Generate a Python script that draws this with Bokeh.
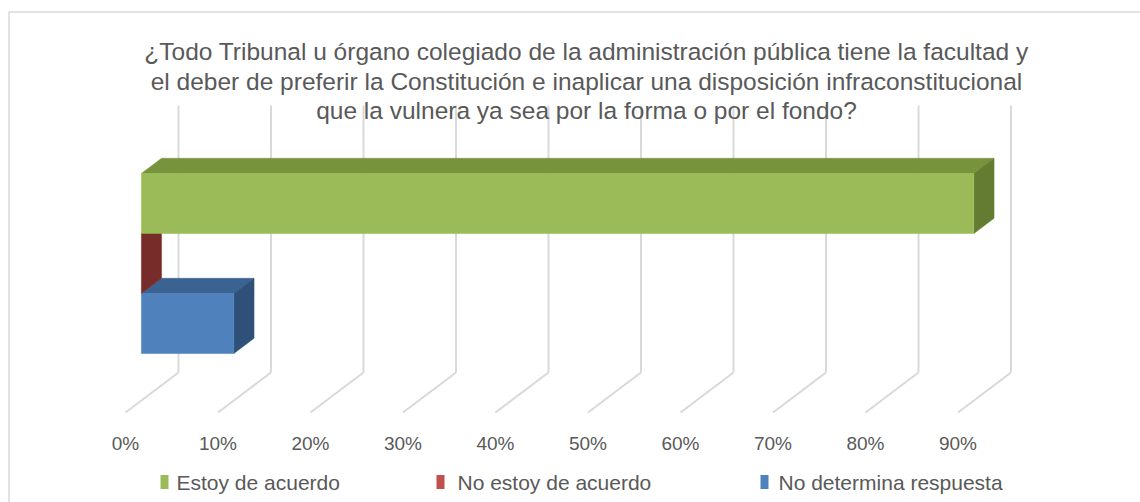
from bokeh.plotting import figure
from bokeh.models import Range1d
from bokeh.embed import file_html
from bokeh.resources import INLINE
from bokeh.core.properties import value

# ---------------- data ----------------
title_lines = [
    "¿Todo Tribunal u órgano colegiado de la administración pública tiene la facultad y",
    "el deber de preferir la Constitución e inaplicar una disposición infraconstitucional",
    "que la vulnera ya sea por la forma o por el fondo?",
]
series = ["Estoy de acuerdo", "No  estoy de acuerdo", "No determina respuesta"]
values = [0.90, 0.00, 0.10]
tick_values = [0.0, 0.1, 0.2, 0.3, 0.4, 0.5, 0.6, 0.7, 0.8, 0.9]
tick_labels = ["0%", "10%", "20%", "30%", "40%", "50%", "60%", "70%", "80%", "90%"]

# ---------------- styles ----------------
front_colors = ["#9BBB59", "#C0504D", "#4F81BD"]
top_colors = ["#77933C", "#8E3431", "#3A6391"]
side_colors = ["#637C31", "#772C2A", "#2F5179"]
text_color = "#595959"
grid_color = "#D9D9D9"
FONT = "Liberation Sans"

# 3-D projection (per unit depth, in data units)
DX = 53 / 925
DY = 40 / 60
BAR_D0, BAR_D1 = 0.30, 0.68
cat_pos = [1.0, 0.0, -1.0]      # positions on the category axis
HALF = 0.5
Y_FLOOR, Y_TOP = -2.283, 2.167

W, H = 1140, 502
p = figure(width=W, height=H, output_backend="svg", toolbar_location=None,
           x_range=Range1d((0 - 125) / 925, (W - 125) / 925),
           y_range=Range1d((275 - H) / 60, (275 - 0) / 60),
           min_border=0, background_fill_color="white", border_fill_color="white")
p.axis.visible = False
p.grid.visible = False
p.outline_line_color = None

# chart border (left and top)
xl = (8.5 - 125) / 925
yt = (275 - 11.5) / 60
p.line([xl, xl], [p.y_range.start, yt], line_color=grid_color, line_width=1.5)
p.line([xl, p.x_range.end], [yt, yt], line_color=grid_color, line_width=1.5)

# back wall gridlines and floor lines
gx, gy = [], []
for t in tick_values:
    gx.append([t + DX, t + DX]); gy.append([Y_FLOOR + DY, Y_TOP + DY])
    gx.append([t, t + DX]); gy.append([Y_FLOOR, Y_FLOOR + DY])
p.multi_line(gx, gy, line_color=grid_color, line_width=2)


def pt(x, y, d):
    return x + d * DX, y + d * DY


def quad(pts):
    return [q[0] for q in pts], [q[1] for q in pts]


# bars: draw from bottom to top so upper bars overlap lower ones
for i in reversed(range(len(values))):
    v = values[i]
    yc = cat_pos[i]
    y0, y1 = yc - HALF, yc + HALF
    tx, ty = quad([pt(0, y1, BAR_D0), pt(v, y1, BAR_D0), pt(v, y1, BAR_D1), pt(0, y1, BAR_D1)])
    sx, sy = quad([pt(v, y0, BAR_D0), pt(v, y1, BAR_D0), pt(v, y1, BAR_D1), pt(v, y0, BAR_D1)])
    fx, fy = quad([pt(0, y0, BAR_D0), pt(v, y0, BAR_D0), pt(v, y1, BAR_D0), pt(0, y1, BAR_D0)])
    p.patch(tx, ty, fill_color=top_colors[i], line_color=top_colors[i], line_width=0.5)
    p.patch(sx, sy, fill_color=side_colors[i], line_color=side_colors[i], line_width=0.5)
    if v > 0:
        p.patch(fx, fy, fill_color=front_colors[i], line_color=front_colors[i], line_width=0.5)

# tick labels
p.text(x=tick_values, y=[(275 - 443) / 60] * len(tick_values), text=tick_labels,
       text_font=value(FONT), text_font_size="19px", text_color=text_color,
       text_align="center", text_baseline="middle")

# title
title_x = (586 - 125) / 925
title_y = [(275 - b) / 60 for b in (51, 80.5, 110)]
p.text(x=[title_x] * 3, y=title_y, text=title_lines, text_font=value(FONT),
       text_font_size="24.5px", text_color=text_color, text_align="center",
       text_baseline="alphabetic")

# legend
leg_sq_x = [(164 - 125) / 925, (440 - 125) / 925, (764 - 125) / 925]
leg_tx_x = [(176 - 125) / 925, (457 - 125) / 925, (778 - 125) / 925]
leg_y = (275 - 481.5) / 60
p.rect(x=leg_sq_x, y=[leg_y] * 3, width=8 / 925, height=14 / 60,
       fill_color=front_colors, line_color=None)
p.text(x=leg_tx_x, y=[leg_y] * 3, text=series, text_font=value(FONT),
       text_font_size="21px", text_color=text_color, text_align="left",
       text_baseline="middle")

open("out.html", "w").write(file_html(p, INLINE))
